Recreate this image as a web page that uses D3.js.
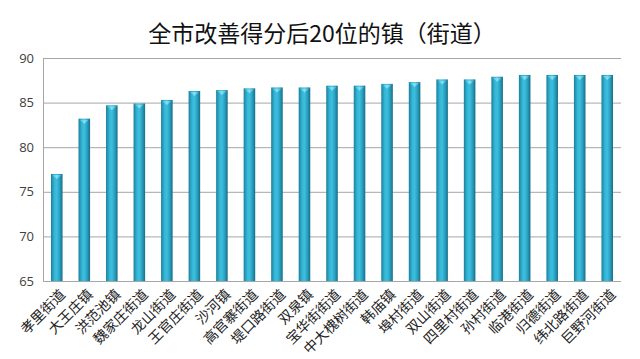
<!DOCTYPE html>
<html><head><meta charset="utf-8">
<script src="https://cdn.jsdelivr.net/npm/d3@7/dist/d3.min.js"></script>
<style>body{margin:0;background:#fff}svg{display:block}</style>
</head><body>
<svg id="c" width="640" height="359"></svg>
<script>
const title = "全市改善得分后20位的镇（街道）";
const categories = ["孝里街道","大王庄镇","洪范池镇","魏家庄街道","龙山街道","王官庄街道","沙河镇","高官寨街道","堤口路街道","双泉镇","宝华街街道","中大槐树街道","韩庙镇","埠村街道","双山街道","四里村街道","孙村街道","临港街道","归德街道","纬北路街道","巨野河街道"];
const values = [77.0,83.2,84.7,84.9,85.3,86.3,86.4,86.6,86.7,86.7,86.9,86.9,87.1,87.3,87.6,87.6,87.9,88.1,88.1,88.1,88.1];
const yTicks = [65,70,75,80,85,90];

const svg = d3.select("#c");
const L = 43, R = 621, T = 58, B = 281;
const x = d3.scaleBand().domain(categories).range([L, R]).paddingInner(0.58).paddingOuter(0.29);
const y = d3.scaleLinear().domain([65, 90]).range([B, T]);

const defs = svg.append("defs");
const g = defs.append("linearGradient").attr("id","bar").attr("x1","0").attr("x2","1").attr("y1","0").attr("y2","0");
[["0%","#1b7f9b"],["30%","#35b6d6"],["50%","#3cbfde"],["75%","#2a9fbf"],["100%","#156e88"]].forEach(s=>g.append("stop").attr("offset",s[0]).attr("stop-color",s[1]));
const cg = defs.append("linearGradient").attr("id","cap").attr("x1","0").attr("x2","1");
[["0%","#3fb9d8"],["50%","#8fe3f5"],["100%","#3aaecd"]].forEach(s=>cg.append("stop").attr("offset",s[0]).attr("stop-color",s[1]));

svg.append("text").attr("x", 322).attr("y", 42).attr("text-anchor","middle")
  .attr("font-family","'Noto Sans CJK SC', sans-serif").attr("font-size", 23).attr("fill","#111").text(title);

// grid
svg.append("g").selectAll("line").data(yTicks).join("line")
  .attr("x1", L).attr("x2", R).attr("y1", d=>y(d)+0.5).attr("y2", d=>y(d)+0.5)
  .attr("stroke","#a6a6a6").attr("stroke-width",1);
svg.append("line").attr("x1",L+0.5).attr("x2",L+0.5).attr("y1",T).attr("y2",B).attr("stroke","#a6a6a6");

const yAxis = d3.axisLeft(y).tickValues(yTicks).tickSize(0).tickPadding(9);
svg.append("g").attr("transform",`translate(${L},0)`).call(yAxis)
  .call(s=>s.select(".domain").remove())
  .call(s=>s.selectAll("text").attr("font-family","'Open Sans', 'DejaVu Sans', sans-serif").attr("font-size",13).attr("fill","#404040"));

const bw = x.bandwidth();
const bars = svg.append("g").selectAll("g").data(categories).join("g");
bars.append("rect").attr("x", d=>x(d)).attr("y", (d,i)=>y(values[i])).attr("width", bw)
  .attr("height", (d,i)=>B - y(values[i])).attr("fill","url(#bar)");
bars.append("path").attr("d", (d,i)=>{
  const x0 = x(d), yy = y(values[i]);
  return `M${x0+1},${yy+1} L${x0+bw-1},${yy+1} L${x0+bw/2},${yy+5} Z`;
}).attr("fill","url(#cap)").attr("opacity",0.9);

// x labels
svg.append("g").selectAll("text").data(categories).join("text")
  .attr("transform", d=>`translate(${x(d)+bw/2+6},${B+11}) rotate(-45)`)
  .attr("text-anchor","end").attr("dy","0.35em")
  .attr("font-family","'Noto Sans CJK SC', sans-serif").attr("font-size",14).attr("fill","#222")
  .text(d=>d);
</script>
</body></html>
